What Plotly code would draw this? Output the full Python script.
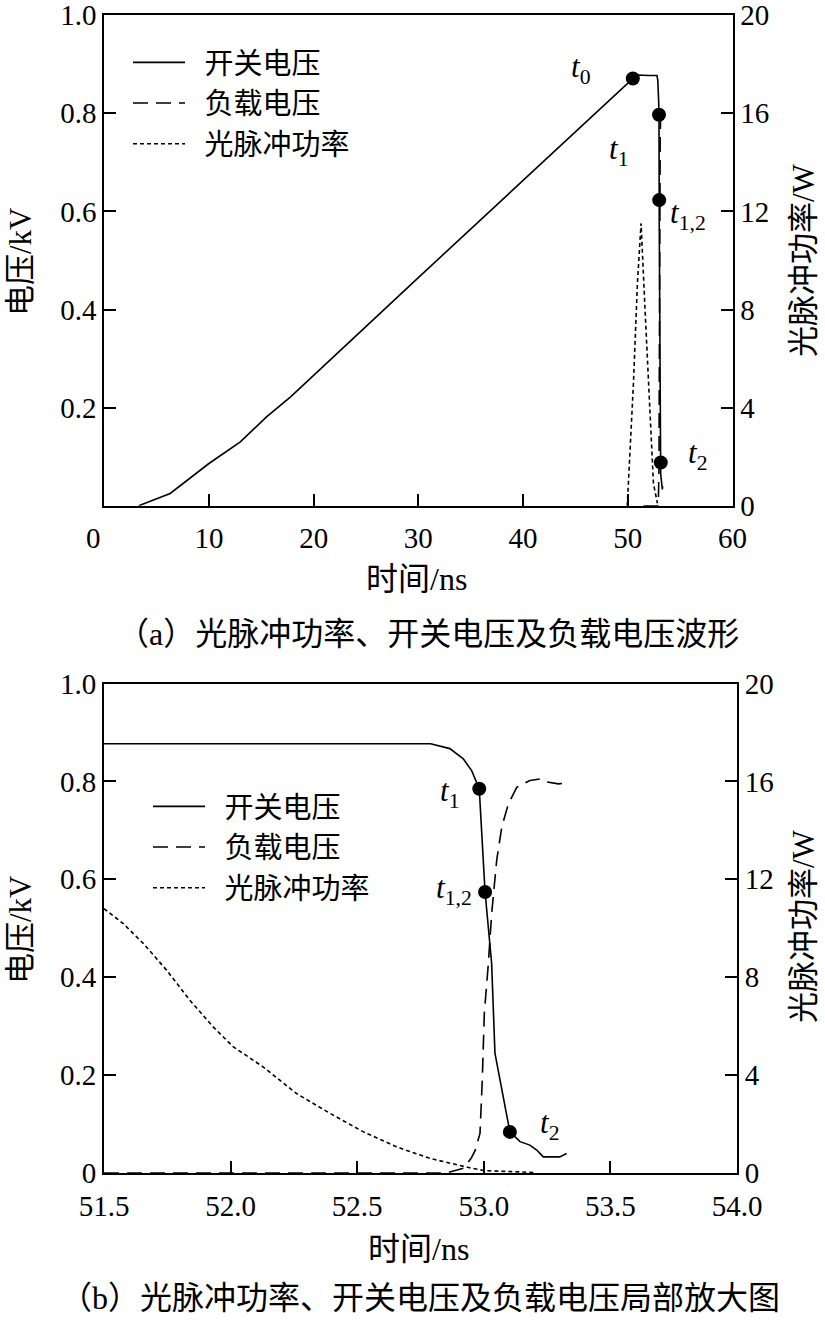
import plotly.graph_objects as go

# ---------------- data ----------------
# panel (a): full waveform, time in ns
a_ramp_t = [3.3, 6.3, 10.0, 13.0, 15.5, 17.8, 30.0, 50.5, 51.0]
a_ramp_v = [0.0, 0.025, 0.086, 0.130, 0.181, 0.222, 0.465, 0.871, 0.878]

a_power_t = [49.95, 50.54, 50.92, 51.27, 51.65, 51.97, 52.45, 52.83]
a_power_w = [0.0, 4.99, 9.07, 11.51, 7.98, 4.99, 0.91, 0.1]

a_mark_t = [50.48, 52.98, 53.0, 53.15]
a_mark_v = [0.871, 0.797, 0.623, 0.088]

# panel (b): close-up
b_switch_t = [51.5, 52.0, 52.5, 52.79, 52.866, 52.919, 52.952, 52.972, 52.982, 53.005,
              53.031, 53.044, 53.103, 53.143, 53.182, 53.209, 53.235, 53.30, 53.327]
b_switch_v = [0.877, 0.877, 0.877, 0.877, 0.867, 0.846, 0.822, 0.795, 0.785, 0.574,
              0.428, 0.245, 0.084, 0.064, 0.057, 0.047, 0.033, 0.033, 0.040]

b_load_t = [51.5, 52.85, 52.92, 52.95, 52.965, 52.985, 52.994, 53.002, 53.018, 53.031,
            53.051, 53.071, 53.097, 53.13, 53.182, 53.222, 53.248, 53.294, 53.33]
b_load_v = [0.0, 0.0, 0.01, 0.03, 0.045, 0.081, 0.19, 0.326, 0.428, 0.53,
            0.639, 0.707, 0.754, 0.788, 0.802, 0.805, 0.799, 0.795, 0.797]

b_power_t = [51.5, 51.576, 51.655, 51.747, 51.839, 51.931, 52.01, 52.128, 52.26,
             52.392, 52.523, 52.655, 52.786, 52.891, 52.95, 53.0, 53.1, 53.2]
b_power_w = [10.8, 10.19, 9.38, 8.29, 7.06, 5.97, 5.16, 4.34, 3.25,
             2.44, 1.69, 1.07, 0.60, 0.33, 0.2, 0.1, 0.05, 0.02]

b_mark_t = [52.982, 53.005, 53.103]
b_mark_v = [0.785, 0.574, 0.084]

a_labels = ["<i>t</i><sub>0</sub>", "<i>t</i><sub>1</sub>", "<i>t</i><sub>1,2</sub>", "<i>t</i><sub>2</sub>"]
a_label_t = [45.5, 49.08, 55.76, 56.62]
a_label_v = [0.89, 0.723, 0.592, 0.104]
b_labels = ["<i>t</i><sub>1</sub>", "<i>t</i><sub>1,2</sub>", "<i>t</i><sub>2</sub>"]
b_label_t = [52.863, 52.882, 53.258]
b_label_v = [0.776, 0.578, 0.098]

names = ["开关电压", "负载电压", "光脉冲功率"]

a_xticks = [0, 10, 20, 30, 40, 50, 60]
a_yticks = [0.2, 0.4, 0.6, 0.8, 1.0]
b_xticks = [51.5, 52.0, 52.5, 53.0, 53.5, 54.0]
b_yticks = [0, 0.2, 0.4, 0.6, 0.8, 1.0]
w_ticks = [0, 4, 8, 12, 16, 20]

# ---------------- figure ----------------
W, H = 825, 1320
SERIF = "Liberation Serif, Times New Roman, Noto Sans CJK SC"
CJK = "Liberation Serif, Noto Sans CJK SC"
BLACK = "black"
GAP = "\u00a0\u00a0"

fig = go.Figure()

solid = dict(color=BLACK, width=1.6)
dashed = dict(color=BLACK, width=1.6, dash="15px,8px")
dotted = dict(color=BLACK, width=1.6, dash="4px,3px")

# panel (a)
fig.add_trace(go.Scatter(x=a_ramp_t + b_switch_t, y=a_ramp_v + b_switch_v, mode="lines",
                         line=solid, name=GAP + names[0], legend="legend", xaxis="x", yaxis="y"))
fig.add_trace(go.Scatter(x=b_load_t, y=b_load_v, mode="lines", line=dashed,
                         name=GAP + names[1], legend="legend", xaxis="x", yaxis="y"))
fig.add_trace(go.Scatter(x=a_power_t, y=a_power_w, mode="lines", line=dotted,
                         name=GAP + names[2], legend="legend", xaxis="x", yaxis="y2"))
fig.add_trace(go.Scatter(x=a_mark_t, y=a_mark_v, mode="markers",
                         marker=dict(color=BLACK, size=14), showlegend=False,
                         xaxis="x", yaxis="y"))

# panel (b)
fig.add_trace(go.Scatter(x=b_switch_t, y=b_switch_v, mode="lines", line=solid,
                         name=GAP + names[0], legend="legend2", xaxis="x2", yaxis="y3"))
fig.add_trace(go.Scatter(x=b_load_t, y=b_load_v, mode="lines", line=dashed,
                         name=GAP + names[1], legend="legend2", xaxis="x2", yaxis="y3"))
fig.add_trace(go.Scatter(x=b_power_t, y=b_power_w, mode="lines", line=dotted,
                         name=GAP + names[2], legend="legend2", xaxis="x2", yaxis="y4"))
fig.add_trace(go.Scatter(x=b_mark_t, y=b_mark_v, mode="markers",
                         marker=dict(color=BLACK, size=14), showlegend=False,
                         xaxis="x2", yaxis="y3"))

tickfont = dict(family=SERIF, size=29, color=BLACK)
common = dict(showgrid=False, zeroline=False, showline=True, linecolor=BLACK, linewidth=2,
              ticks="inside", ticklen=12, tickwidth=2, tickcolor=BLACK,
              tickfont=tickfont, automargin=False, ticklabeloverflow="allow")

top_y = [1 - 505.7 / H, 1 - 15.2 / H]
bot_y = [1 - 1173 / H, 1 - 683.5 / H]
top_x = [104.2 / W, 732.5 / W]
bot_x = [104 / W, 737 / W]

a_xtext = [str(v) for v in a_xticks]
a_xtext[0] = "0" + "\u00a0" * 3

fig.update_layout(
    width=W, height=H, margin=dict(l=0, r=0, t=0, b=0),
    paper_bgcolor="white", plot_bgcolor="white",
    xaxis=dict(domain=top_x, anchor="y", range=[0, 60], tickvals=a_xticks,
               ticktext=a_xtext, mirror=True, ticklabelstandoff=5, **common),
    yaxis=dict(domain=top_y, anchor="x", range=[0, 1.0], tickvals=a_yticks,
               ticktext=["%.1f" % v for v in a_yticks], **common),
    yaxis2=dict(overlaying="y", side="right", anchor="x", range=[0, 20], tickvals=w_ticks,
                ticktext=[str(v) for v in w_ticks], **common),
    xaxis2=dict(domain=bot_x, anchor="y3", range=[51.5, 54.0], tickvals=b_xticks,
                ticktext=["%.1f" % v for v in b_xticks], mirror=True, ticklabelstandoff=6,
                **common),
    yaxis3=dict(domain=bot_y, anchor="x2", range=[0, 1.0], tickvals=b_yticks,
                ticktext=["0"] + ["%.1f" % v for v in b_yticks[1:]], **common),
    yaxis4=dict(overlaying="y3", side="right", anchor="x2", range=[0, 20], tickvals=w_ticks,
                ticktext=[str(v) for v in w_ticks], **common),
    legend=dict(x=128 / W, y=1 - 37 / H, xanchor="left", yanchor="top",
                font=dict(family=CJK, size=29, color=BLACK), bgcolor="rgba(0,0,0,0)",
                itemwidth=52, tracegroupgap=0),
    legend2=dict(x=148 / W, y=1 - 781 / H, xanchor="left", yanchor="top",
                 font=dict(family=CJK, size=29, color=BLACK), bgcolor="rgba(0,0,0,0)",
                 itemwidth=52, tracegroupgap=0),
)

ann = []
for txt, t, v in zip(a_labels, a_label_t, a_label_v):
    ann.append(dict(x=t, y=v, xref="x", yref="y", text=txt, showarrow=False,
                    font=dict(family=SERIF, size=31, color=BLACK)))
for txt, t, v in zip(b_labels, b_label_t, b_label_v):
    ann.append(dict(x=t, y=v, xref="x2", yref="y3", text=txt, showarrow=False,
                    font=dict(family=SERIF, size=31, color=BLACK)))

def paper_text(txt, px, py, angle=0, size=30):
    return dict(x=px / W, y=1 - py / H, xref="paper", yref="paper", text=txt,
                showarrow=False, textangle=angle, xanchor="center", yanchor="middle",
                font=dict(family=CJK, size=size, color=BLACK))

ann += [
    paper_text("时间/ns", 416, 579, size=32),
    paper_text("时间/ns", 418, 1249, size=32),
    paper_text("电压/kV", 20, 262, angle=-90, size=31),
    paper_text("电压/kV", 20, 930, angle=-90, size=31),
    paper_text("光脉冲功率/W", 803, 260, angle=-90, size=31),
    paper_text("光脉冲功率/W", 803, 926, angle=-90, size=31),
    paper_text("（a）光脉冲功率、开关电压及负载电压波形", 428, 634, size=32),
    paper_text("（b）光脉冲功率、开关电压及负载电压局部放大图", 420, 1298, size=32),
]
fig.update_layout(annotations=ann)

fig.write_html("out.html", config={"displayModeBar": False},
               post_script="document.body.style.margin='0px';")
